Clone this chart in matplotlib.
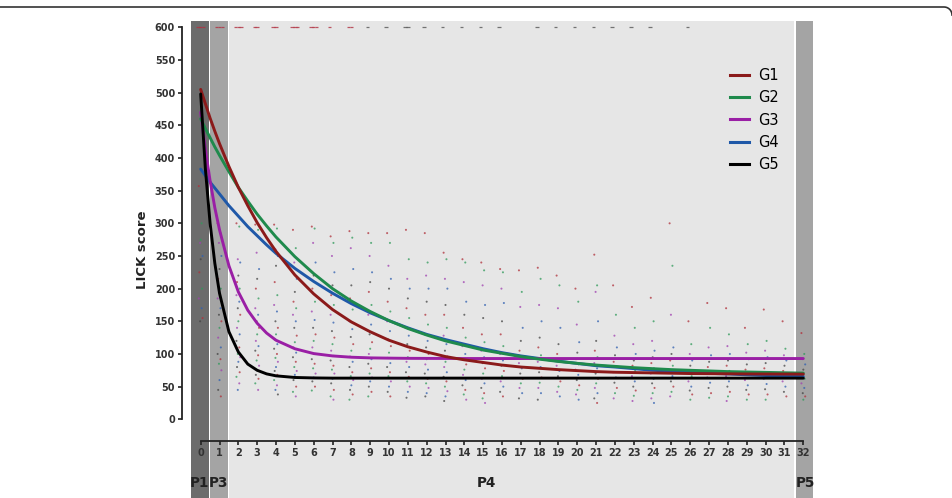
import numpy as np
import matplotlib
matplotlib.use("Agg")
import matplotlib.pyplot as plt
from matplotlib.lines import Line2D

# fitted curves on a shared day grid
CURVE_X = [0, 0.25, 0.5, 0.75, 1, 1.5, 2, 2.5, 3, 3.5, 4, 5, 6, 7, 8, 9, 10, 11, 12,
           13, 14, 15, 16, 17, 18, 19, 20, 21, 22, 23, 24, 25, 26, 27, 28, 29, 30, 31, 32]
G1 = [505, 483, 461, 441, 422, 387, 355, 327, 301, 278, 257, 221, 192, 168, 149, 134,
      121, 111, 103, 96, 91, 87, 83, 80, 78, 76, 74.5, 73, 72, 71.5, 71, 70.5, 70,
      69.8, 69.6, 69.4, 69.3, 69.2, 69.1]
G2 = [460, 445, 431, 417, 404, 379, 355, 334, 314, 296, 279, 249, 223, 200, 181, 165,
      151, 139, 129, 120, 113, 106, 101, 96, 92, 88.5, 85.6, 83, 81, 79, 77.5, 76, 75,
      74, 73, 72.4, 71.8, 71.2, 70.7]
G3 = [470, 413, 365, 324, 290, 235, 195, 167, 147, 132, 121, 108, 100.6, 97, 95, 94,
      93.6, 93.3, 93.2, 93.1, 93, 93, 93, 93, 93, 93, 93, 93, 93, 93, 93, 93, 93, 93,
      93, 93, 93, 93, 93]
G4 = [383, 373, 363, 354, 345, 327, 311, 295, 281, 267, 254, 231, 211, 193, 177, 163,
      151, 140, 130, 122, 115, 108, 102, 97, 93, 89, 85.5, 82, 80, 77.5, 75, 73.5, 72,
      70.3, 69.4, 68, 67, 66, 65.5]
G5 = [498, 383, 300, 239, 193, 134, 103, 84.5, 75, 69.5, 66.5, 64, 63.3, 63, 63, 63,
      63, 63, 63, 63, 63, 63, 63, 63, 63, 63, 63, 63, 63, 63, 63, 63, 63, 63, 63, 63,
      63, 63, 63]
GROUPS = ["G1", "G2", "G3", "G4", "G5"]

# individual LICK scores per day (0..32)
DOT_VALUES = [
    [357, 300, 270, 250, 245, 225, 200, 185, 170, 150, 155, 275],
    [300, 285, 270, 250, 230, 215, 200, 185, 170, 160, 150, 140, 125, 110, 100, 92, 85, 75, 60, 45, 35],
    [300, 295, 245, 240, 220, 210, 200, 190, 180, 170, 160, 150, 140, 130, 120, 110, 100, 95, 88, 80, 72, 65, 55, 45],
    [298, 290, 255, 230, 215, 200, 185, 170, 160, 150, 140, 130, 120, 112, 105, 98, 90, 82, 75, 68, 62, 55, 45],
    [298, 292, 260, 250, 235, 210, 190, 175, 165, 150, 140, 130, 122, 115, 108, 100, 94, 88, 80, 74, 68, 60, 52, 45, 38],
    [290, 262, 240, 215, 195, 180, 170, 160, 150, 140, 128, 118, 110, 102, 95, 88, 80, 74, 68, 60, 50, 42, 35],
    [295, 292, 270, 240, 220, 200, 180, 165, 152, 140, 130, 120, 110, 100, 92, 85, 78, 70, 64, 58, 50, 44],
    [280, 270, 250, 225, 205, 190, 175, 160, 148, 135, 125, 115, 105, 97, 90, 82, 76, 70, 62, 55, 45, 35, 30],
    [288, 278, 262, 230, 205, 185, 168, 150, 138, 126, 115, 105, 96, 88, 80, 72, 66, 60, 52, 45, 38, 30],
    [285, 270, 250, 225, 210, 195, 175, 160, 145, 130, 118, 108, 100, 92, 85, 78, 70, 64, 58, 50, 42, 35],
    [285, 270, 235, 215, 200, 180, 165, 150, 135, 122, 112, 102, 94, 86, 80, 72, 66, 58, 50, 42, 35],
    [290, 245, 215, 200, 185, 170, 155, 140, 128, 115, 105, 95, 88, 80, 72, 65, 58, 50, 42, 33],
    [285, 240, 220, 200, 180, 160, 145, 130, 120, 110, 100, 92, 84, 76, 70, 62, 55, 48, 40, 35],
    [255, 245, 215, 200, 175, 160, 140, 128, 115, 105, 96, 88, 80, 72, 65, 58, 50, 43, 35, 28],
    [245, 240, 210, 180, 160, 140, 125, 112, 100, 92, 84, 76, 68, 60, 52, 45, 38, 30],
    [240, 228, 205, 175, 155, 130, 118, 105, 95, 86, 78, 70, 62, 55, 48, 40, 32, 25],
    [230, 225, 200, 178, 150, 130, 112, 100, 90, 82, 74, 66, 58, 50, 42, 35],
    [228, 195, 172, 140, 120, 105, 95, 86, 78, 70, 62, 55, 48, 40, 32],
    [232, 215, 175, 150, 125, 110, 98, 88, 80, 72, 64, 56, 48, 40, 30],
    [220, 205, 170, 140, 115, 100, 90, 82, 74, 66, 58, 50, 42, 35],
    [200, 180, 145, 118, 102, 92, 84, 76, 68, 60, 52, 45, 38, 30],
    [252, 205, 195, 150, 120, 105, 95, 86, 78, 70, 62, 55, 48, 40, 32, 25],
    [205, 160, 128, 110, 98, 88, 80, 72, 64, 56, 48, 40, 32],
    [172, 140, 115, 100, 90, 82, 74, 66, 58, 50, 44, 36, 28],
    [186, 150, 120, 105, 95, 86, 78, 70, 62, 55, 48, 40, 32, 25],
    [300, 235, 160, 110, 100, 90, 82, 74, 66, 58, 50, 42, 35],
    [150, 115, 100, 90, 82, 74, 66, 58, 50, 44, 38, 30],
    [178, 140, 110, 98, 88, 80, 72, 64, 56, 48, 40, 33],
    [170, 130, 112, 100, 90, 82, 74, 66, 58, 50, 42, 35, 28],
    [140, 115, 102, 92, 84, 76, 68, 60, 52, 45, 38, 30],
    [168, 120, 105, 95, 86, 78, 70, 62, 54, 46, 38, 30],
    [150, 108, 98, 90, 82, 74, 66, 58, 50, 42, 35],
    [132, 100, 92, 84, 76, 70, 62, 55, 48, 40, 35, 30],
]
# days with animals capped at the maximum score of 600
CAPPED_DAYS = [0, 0, 0, 1, 1, 1, 2, 2, 2, 3, 3, 4, 4, 5, 5, 5, 6, 6, 6, 7, 8, 8, 9,
               10, 11, 11, 12, 13, 14, 15, 16, 18, 19, 20, 21, 22, 23, 24, 26]

PHASES = ["P1", "P3", "P4", "P5"]
PHASE_SPANS = [(-0.53, 0.44), (0.49, 1.43), (1.52, 31.5), (31.6, 32.6)]
PHASE_COLORS = ["#6c6c6c", "#a4a4a4", "#e6e6e6", "#a4a4a4"]
PHASE_LABEL_X = [-0.05, 0.97, 15.2, 32.1]

COLORS = {"G1": "#8b1a1a", "G2": "#1f8a4c", "G3": "#9a1fa5", "G4": "#1f58a8", "G5": "#000000"}

W, H = 953, 498
fig = plt.figure(figsize=(W / 100, H / 100), dpi=100)
ax = fig.add_axes([190.7 / W, 0, (813.3 - 190.7) / W, (H - 21) / H])
ax.set_xlim(-0.53, 32.53)
ax.set_ylim(-120.5, 609.7)
ax.set_facecolor("none")

for (a, b), c in zip(PHASE_SPANS, PHASE_COLORS):
    ax.axvspan(a, b, color=c, lw=0, zorder=0)

for x, lab in zip(PHASE_LABEL_X, PHASES):
    ax.text(x, -97, lab, ha="center", va="center", fontsize=9.8,
            fontweight="bold", color="#222222")

# scatter of individual scores
dot_cols = ["#b0303a", "#2f9a5a", "#a040b0", "#3060b0", "#444444"]
offs = [-0.1, 0.05, -0.03, 0.1, 0.0, -0.07, 0.07]
for day, vals in enumerate(DOT_VALUES):
    xs = [day + offs[i % len(offs)] for i in range(len(vals))]
    cs = [dot_cols[i % len(dot_cols)] for i in range(len(vals))]
    ax.scatter(xs, vals, s=2.2, c=cs, linewidths=0, alpha=0.75, zorder=2)

cap_x = []
seen = {}
for d in CAPPED_DAYS:
    k = seen.get(d, 0)
    seen[d] = k + 1
    cap_x.append(d + (k - 1) * 0.15)
cap_c = ["#b03040" if d <= 8 else "#555555" for d in CAPPED_DAYS]
ax.scatter(cap_x, [600] * len(cap_x), s=6, marker="_", c=cap_c, linewidths=0.9,
           alpha=0.8, zorder=2)

curves = {"G1": G1, "G2": G2, "G3": G3, "G4": G4, "G5": G5}
order = ["G4", "G3", "G2", "G1", "G5"]
for g in order:
    ax.plot(CURVE_X, curves[g], color=COLORS[g], lw=2.1, zorder=3,
            solid_capstyle="round")

# axes styling
for s in ["top", "right"]:
    ax.spines[s].set_visible(False)
ax.spines["left"].set_position(("outward", 6.3))
ax.spines["left"].set_bounds(0, 600)
ax.spines["bottom"].set_position(("data", -33.2))
ax.spines["bottom"].set_bounds(0, 32)
for s in ["left", "bottom"]:
    ax.spines[s].set_linewidth(1.3)
    ax.spines[s].set_color("#222222")
ax.set_yticks(np.arange(0, 601, 50))
ax.set_xticks(np.arange(0, 33, 1))
ax.tick_params(axis="both", direction="out", length=3, width=1.2, color="#222222",
               labelsize=7.0, labelcolor="#333333", pad=2)
for t in ax.get_xticklabels() + ax.get_yticklabels():
    t.set_fontweight("bold")

fig.text(142 / W, 1 - 250 / H, "LICK score", rotation=90, ha="center", va="center",
         fontsize=9.5, fontweight="bold", color="#222222")

handles = [Line2D([], [], color=COLORS[g], lw=2.2) for g in GROUPS]
fig.legend(handles, GROUPS, loc="upper left", bbox_to_anchor=(730 / W, 1 - 68 / H),
           frameon=False, fontsize=10.5, handlelength=1.3, handletextpad=0.6,
           labelspacing=0.5, borderpad=0, borderaxespad=0)

# panel border at the top of the figure
t = np.linspace(0, np.pi / 2, 12)
bx = list(np.r_[0, 944 + 8 * np.sin(t)])
by = list(np.r_[7, 15 - 8 * np.cos(t)])
fig.add_artist(Line2D([x / W for x in bx], [1 - y / H for y in by], color="#333333",
                      lw=1.2, transform=fig.transFigure))

fig.savefig("out.png", dpi=100)
